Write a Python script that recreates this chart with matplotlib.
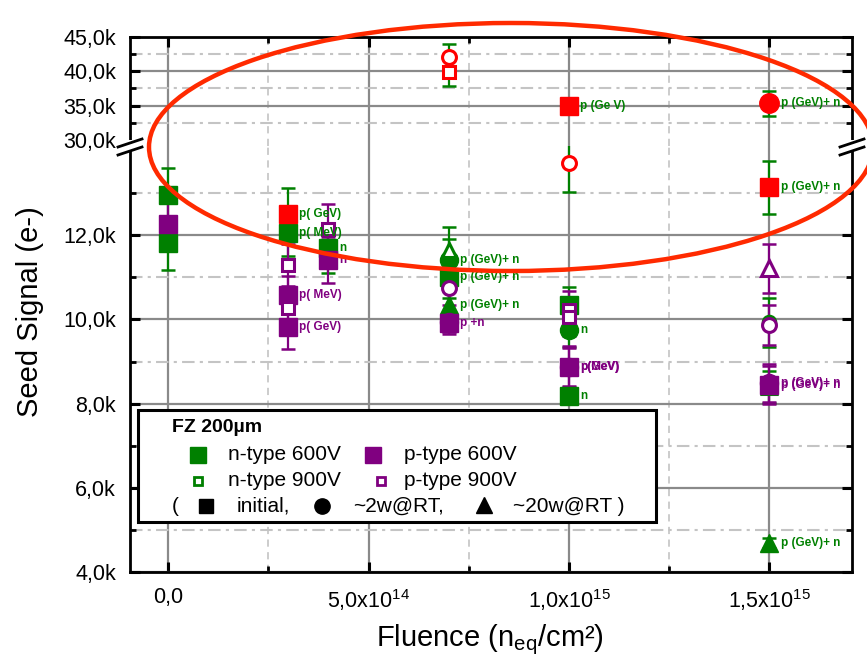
import matplotlib
matplotlib.use("Agg")
import matplotlib.pyplot as plt
from matplotlib.patches import Ellipse, Rectangle
from matplotlib.ticker import FixedLocator, FuncFormatter

plt.rcParams['font.family'] = ['Liberation Sans', 'DejaVu Sans']
plt.rcParams['mathtext.fontset'] = 'custom'
plt.rcParams['mathtext.rm'] = 'Liberation Sans'
plt.rcParams['mathtext.it'] = 'Liberation Sans:italic'
plt.rcParams['mathtext.bf'] = 'Liberation Sans:bold'

GREEN = '#008000'
PURPLE = '#800080'
RED = '#ff0000'

# fluence (n_eq/cm^2), seed signal (k e-)
# n-type 600V
n600_init_x = [0, 0, 3e14, 4e14, 7e14, 1e15, 1e15]
n600_init_y = [12.95, 11.81, 12.05, 11.69, 11.01, 10.34, 8.18]
n600_init_err = [0.64, 0.64, 0.55, 0.59, 0.50, 0.44, 0.15]
n600_init_lbl = ['', '', 'p( MeV)', 'n', 'p (GeV)+ n', '', 'n']

n600_2w_x = [7e14, 1e15]
n600_2w_y = [11.41, 9.75]
n600_2w_err = [0.50, 0.40]
n600_2w_lbl = ['p (GeV)+ n', 'n']

n600_20w_x = [7e14, 1.5e15]
n600_20w_y = [10.34, 4.69]
n600_20w_err = [0.45, 0.12]
n600_20w_lbl = ['p (GeV)+ n', 'p (GeV)+ n']

# n-type 900V
n900_2w_x = [1.5e15]
n900_2w_y = [9.93]
n900_2w_err = [0.58]

n900_20w_x = [7e14, 1.5e15]
n900_20w_y = [11.65, 8.40]
n900_20w_err = [0.54, 0.38]

# n-type points highlighted in red
red_init_x = [3e14, 1e15, 1.5e15]
red_init_y = [12.50, 35.0, 13.14]
red_init_err = [0.62, 0.25, 0.63]
red_init_lbl = ['p( GeV)', 'p (Ge V)', 'p (GeV)+ n']

red_2w_x = [1.5e15]
red_2w_y = [35.33]
red_2w_err = [1.85]
red_2w_lbl = ['p (GeV)+ n']

red_open_circ_x = [7e14, 1e15]
red_open_circ_y = [42.04, 13.71]
red_open_circ_err = [1.94, 0.68]

red_open_sq_x = [7e14]
red_open_sq_y = [39.94]
red_open_sq_err = [2.09]

# p-type 600V
p600_init_x = [0, 3e14, 3e14, 4e14, 7e14, 1e15, 1.5e15]
p600_init_y = [12.27, 10.58, 9.82, 11.41, 9.91, 8.88, 8.45]
p600_init_err = [0.60, 0.45, 0.52, 0.55, 0.25, 0.48, 0.45]
p600_init_lbl = ['', 'p( MeV)', 'p( GeV)', 'n', 'p +n', 'p(MeV)', 'p (GeV)+ n']

p600_2w_x = [7e14, 1e15, 1.5e15]
p600_2w_y = [9.95, 8.86, 8.50]
p600_2w_err = [0.25, 0.45, 0.45]
p600_2w_lbl = ['', 'p(GeV)', 'p (GeV)+ n']

# p-type 900V
p900_init_x = [3e14, 3e14, 4e14, 1e15, 1e15]
p900_init_y = [11.29, 10.27, 12.15, 10.22, 10.06]
p900_init_err = [0.50, 0.50, 0.59, 0.45, 0.45]

p900_2w_x = [7e14, 1.5e15]
p900_2w_y = [10.75, 9.87]
p900_2w_err = [0.40, 0.47]

p900_20w_x = [1.5e15]
p900_20w_y = [11.21]
p900_20w_err = [0.58]

x_ticks = [0, 5e14, 1e15, 1.5e15]
x_tick_labels = ['0,0', r'5,0x10$^{14}$', r'1,0x10$^{15}$', r'1,5x10$^{15}$']

W, H = 867, 665
fig = plt.figure(figsize=(W / 100, H / 100), dpi=100)

L, R = 130 / W, 852 / W
y_top, y_brk, y_bot = 37, 146, 572
ax_up = fig.add_axes([L, 1 - y_brk / H, R - L, (y_brk - y_top) / H])
ax_lo = fig.add_axes([L, 1 - y_bot / H, R - L, (y_bot - y_brk) / H])

for ax in (ax_up, ax_lo):
    ax.set_xlim(-0.095e15, 1.706e15)
    ax.xaxis.set_major_locator(FixedLocator(x_ticks))
    ax.xaxis.set_minor_locator(FixedLocator([2.5e14, 7.5e14, 1.25e15]))
    ax.set_axisbelow(True)
    ax.xaxis.grid(True, which='major', color='#8a8a8a', lw=1.6, ls='-')
    ax.xaxis.grid(True, which='minor', color='#c8c8c8', lw=1.3, ls=(0, (4, 3)))
    ax.yaxis.grid(True, which='major', color='#8a8a8a', lw=1.6, ls='-')
    ax.yaxis.grid(True, which='minor', color='#c4c4c4', lw=1.5, ls=(0, (6, 2.5, 1.5, 2.5)))
    ax.tick_params(which='major', direction='in', length=7, width=2.2, right=True, labelsize=15.5)
    ax.tick_params(which='minor', direction='in', length=4, width=2.0, right=True)
    ax.tick_params(axis='y', which='major', pad=10)
    for s in ax.spines.values():
        s.set_linewidth(2.0)

fmt_k = FuncFormatter(lambda v, p: f"{v:.1f}k".replace('.', ','))

ax_up.set_ylim(29.1, 45)
ax_up.yaxis.set_major_locator(FixedLocator([30, 35, 40, 45]))
ax_up.yaxis.set_minor_locator(FixedLocator([32.5, 37.5, 42.5]))
ax_up.yaxis.set_major_formatter(fmt_k)
ax_up.spines['bottom'].set_visible(False)
ax_up.tick_params(axis='x', which='both', bottom=False, top=True, labelbottom=False)
ax_up.get_ygridlines()[0].set_visible(False)
ax_up.yaxis.get_major_ticks()[0].tick1line.set_visible(False)
ax_up.yaxis.get_major_ticks()[0].tick2line.set_visible(False)

ax_lo.set_ylim(4, 14.12)
ax_lo.yaxis.set_major_locator(FixedLocator([4, 6, 8, 10, 12]))
ax_lo.yaxis.set_minor_locator(FixedLocator([5, 7, 9, 11, 13]))
ax_lo.yaxis.set_major_formatter(fmt_k)
ax_lo.spines['top'].set_visible(False)
ax_lo.tick_params(axis='x', which='both', top=False)
ax_lo.set_xticklabels(x_tick_labels)
ax_lo.tick_params(axis='x', which='major', pad=11)


def draw(xs, ys, errs, marker, color, filled, ms, ecolor=None, labels=None, lcolor=None):
    ecolor = ecolor or color
    lcolor = lcolor or ecolor
    for ax in (ax_up, ax_lo):
        ax.errorbar(xs, ys, yerr=errs, fmt='none', ecolor=ecolor, elinewidth=1.6,
                    capsize=5, capthick=1.8, zorder=3)
        ax.plot(xs, ys, ls='none', marker=marker, ms=ms,
                mfc=color if filled else 'white', mec=color,
                mew=1.0 if filled else 2.2, zorder=4)
        if labels:
            for x, y, t in zip(xs, ys, labels):
                if t:
                    ax.annotate(t, (x, y), xytext=(8, 0), textcoords='offset points',
                                va='center', ha='left', fontsize=8.5, fontweight='bold',
                                color=lcolor, zorder=5)


draw(n600_init_x, n600_init_y, n600_init_err, 's', GREEN, True, 12.5, labels=n600_init_lbl)
draw(n600_2w_x, n600_2w_y, n600_2w_err, 'o', GREEN, True, 13, labels=n600_2w_lbl)
draw(n600_20w_x, n600_20w_y, n600_20w_err, '^', GREEN, True, 13, labels=n600_20w_lbl)
draw(n900_2w_x, n900_2w_y, n900_2w_err, 'o', GREEN, False, 9)
draw(n900_20w_x, n900_20w_y, n900_20w_err, '^', GREEN, False, 10)
draw(red_init_x, red_init_y, red_init_err, 's', RED, True, 12.5, ecolor=GREEN, labels=red_init_lbl)
draw(red_2w_x, red_2w_y, red_2w_err, 'o', RED, True, 14, ecolor=GREEN, labels=red_2w_lbl)
draw(red_open_circ_x, red_open_circ_y, red_open_circ_err, 'o', RED, False, 10, ecolor=GREEN)
draw(red_open_sq_x, red_open_sq_y, red_open_sq_err, 's', RED, False, 9, ecolor=GREEN)
draw(p600_init_x, p600_init_y, p600_init_err, 's', PURPLE, True, 13, labels=p600_init_lbl)
draw(p600_2w_x, p600_2w_y, p600_2w_err, 'o', PURPLE, True, 13, labels=p600_2w_lbl)
draw(p900_init_x, p900_init_y, p900_init_err, 's', PURPLE, False, 9)
draw(p900_2w_x, p900_2w_y, p900_2w_err, 'o', PURPLE, False, 10)
draw(p900_20w_x, p900_20w_y, p900_20w_err, '^', PURPLE, False, 11)

fig.text(30 / W, 1 - 312 / H, 'Seed Signal (e-)', rotation=90, ha='center', va='center', fontsize=21)
fig.text(490 / W, 1 - 640 / H, r'Fluence (n$_{\rm eq}$/cm²)', ha='center', va='center', fontsize=21)

# overlay in pixel coordinates: legend box, axis break marks, highlight ellipse
ov = fig.add_axes([0, 0, 1, 1], zorder=10)
ov.set_xlim(0, W)
ov.set_ylim(H, 0)
ov.axis('off')

for xs in (130, 852):
    ov.plot([xs, xs], [140, 151], color='white', lw=4, solid_capstyle='butt')
    ov.plot([xs - 12, xs + 12], [147, 139], color='black', lw=2)
    ov.plot([xs - 12, xs + 12], [155, 147], color='black', lw=2)

ov.add_patch(Rectangle((138, 410), 518, 112, facecolor='white', edgecolor='black', lw=2.2))
ov.text(172, 427, 'FZ 200µm', fontsize=14, fontweight='bold', va='center', ha='left')
ov.plot([198], [455], 's', ms=12, color=GREEN)
ov.text(228, 455, 'n-type 600V', fontsize=15, va='center', ha='left')
ov.plot([373], [455], 's', ms=12, color=PURPLE)
ov.text(404, 455, 'p-type 600V', fontsize=15, va='center', ha='left')
ov.plot([198], [481], 's', ms=6, mfc='white', mec=GREEN, mew=2)
ov.text(228, 481, 'n-type 900V', fontsize=15, va='center', ha='left')
ov.plot([381], [481], 's', ms=6, mfc='white', mec=PURPLE, mew=2)
ov.text(404, 481, 'p-type 900V', fontsize=15, va='center', ha='left')
ov.text(172, 506, '(', fontsize=15, va='center', ha='left')
ov.plot([206], [506], 's', ms=10, color='black')
ov.text(237, 506, 'initial,', fontsize=15, va='center', ha='left')
ov.plot([322], [506], 'o', ms=11, color='black')
ov.text(353, 506, '~2w@RT,', fontsize=15, va='center', ha='left')
ov.plot([484], [505], '^', ms=12, color='black')
ov.text(513, 506, '~20w@RT )', fontsize=15, va='center', ha='left')

ov.add_patch(Ellipse((511, 147), 724, 248, fill=False, edgecolor='#ff2a00', lw=3.2))

fig.savefig('out.png', dpi=100)
